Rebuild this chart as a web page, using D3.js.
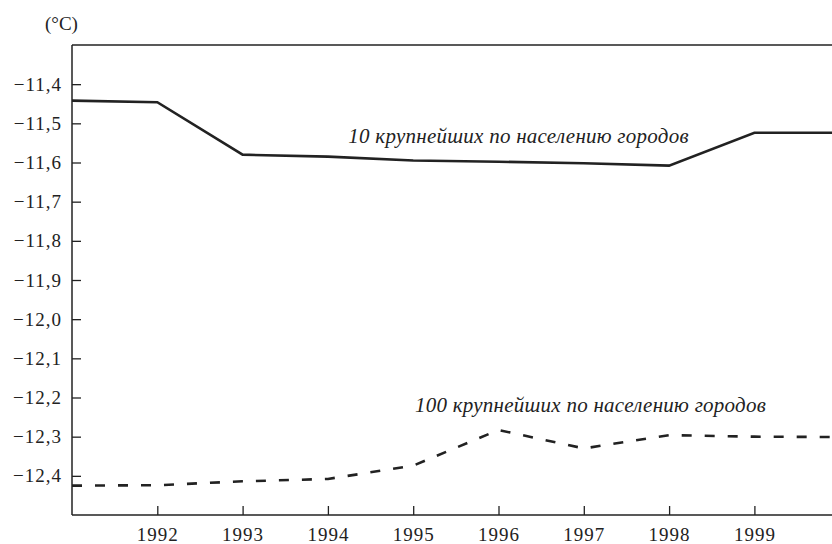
<!DOCTYPE html>
<html>
<head>
<meta charset="utf-8">
<script src="https://cdn.jsdelivr.net/npm/d3@7"></script>
<style>
  body { margin: 0; background: #fff; }
  svg { display: block; }
  .tick text { font-family: "Liberation Serif", serif; font-size: 19px; letter-spacing: 1px; fill: #222; }
</style>
</head>
<body>
<div id="chart"></div>
<script>
// data
const years = [1991, 1992, 1993, 1994, 1995, 1996, 1997, 1998, 1999, 2000];
const top10 = [-11.442, -11.446, -11.580, -11.585, -11.595, -11.598, -11.602, -11.608, -11.524, -11.524];
const top100 = [-12.425, -12.424, -12.414, -12.408, -12.374, -12.283, -12.330, -12.296, -12.300, -12.301];
const yTicks = [-12.4, -12.3, -12.2, -12.1, -12.0, -11.9, -11.8, -11.7, -11.6, -11.5, -11.4];
const xTicks = [1992, 1993, 1994, 1995, 1996, 1997, 1998, 1999];
const unitLabel = '(°C)';
const label10 = '10 крупнейших по населению городов';
const label100 = '100 крупнейших по населению городов';

const width = 832;
const height = 544;
const mLeft = 72, mTop = 45, mBottom = 515;
const color = '#222';
const serif = '"Liberation Serif", serif';

const svg = d3.select('#chart')
  .append('svg')
  .attr('width', width)
  .attr('height', height);

const x = d3.scaleLinear()
  .domain([1991, 2000])
  .range([mLeft, mLeft + 9 * 85.3]);

const y = d3.scaleLinear()
  .domain([-12.5, -11.3])
  .range([mBottom, mTop]);

const ru = d3.formatLocale({ decimal: ',', thousands: ' ', grouping: [3], currency: ['', ''], minus: '\u2212' });

// frame top line
svg.append('line')
  .attr('x1', mLeft).attr('x2', width)
  .attr('y1', mTop).attr('y2', mTop)
  .attr('stroke', color).attr('stroke-width', 1.3);

// y axis, ticks pointing inside
const yAxis = svg.append('g')
  .attr('transform', `translate(${mLeft},0)`)
  .call(d3.axisLeft(y).tickValues(yTicks).tickSize(-9).tickPadding(10).tickFormat(ru.format('.1f')));
yAxis.select('.domain').attr('d', `M0,${mTop}V${mBottom}`).attr('stroke', color).attr('stroke-width', 1.5);
yAxis.selectAll('.tick line').attr('stroke', color).attr('stroke-width', 1.3);

// x axis
const xAxis = svg.append('g')
  .attr('transform', `translate(0,${mBottom})`)
  .call(d3.axisBottom(x).tickValues(xTicks).tickSize(-9).tickPadding(13).tickFormat(d3.format('d')));
xAxis.select('.domain').attr('d', `M${mLeft},0H${width}`).attr('stroke', color).attr('stroke-width', 1.5);
xAxis.selectAll('.tick line').attr('stroke', color).attr('stroke-width', 1.3);

// unit label
svg.append('text')
  .attr('x', 45).attr('y', 30)
  .style('font-family', serif)
  .style('font-size', '19px')
  .attr('fill', color)
  .text(unitLabel);

const line = d3.line()
  .x((d, i) => x(years[i]))
  .y(d => y(d));

svg.append('path')
  .datum(top10)
  .attr('d', line)
  .attr('fill', 'none')
  .attr('stroke', color)
  .attr('stroke-width', 2.6)
  .attr('stroke-linejoin', 'miter');

svg.append('path')
  .datum(top100)
  .attr('d', line)
  .attr('fill', 'none')
  .attr('stroke', color)
  .attr('stroke-width', 2.6)
  .attr('stroke-dasharray', '10,13');

// series labels
svg.append('text')
  .attr('x', x(1994.24)).attr('y', y(-11.55))
  .style('font-family', serif)
  .style('font-style', 'italic')
  .style('font-size', '21px')
  .style('letter-spacing', '0.25px')
  .attr('fill', color)
  .text(label10);

svg.append('text')
  .attr('x', x(1995.02)).attr('y', y(-12.237))
  .style('font-family', serif)
  .style('font-style', 'italic')
  .style('font-size', '21px')
  .style('letter-spacing', '0.25px')
  .attr('fill', color)
  .text(label100);
</script>
</body>
</html>
